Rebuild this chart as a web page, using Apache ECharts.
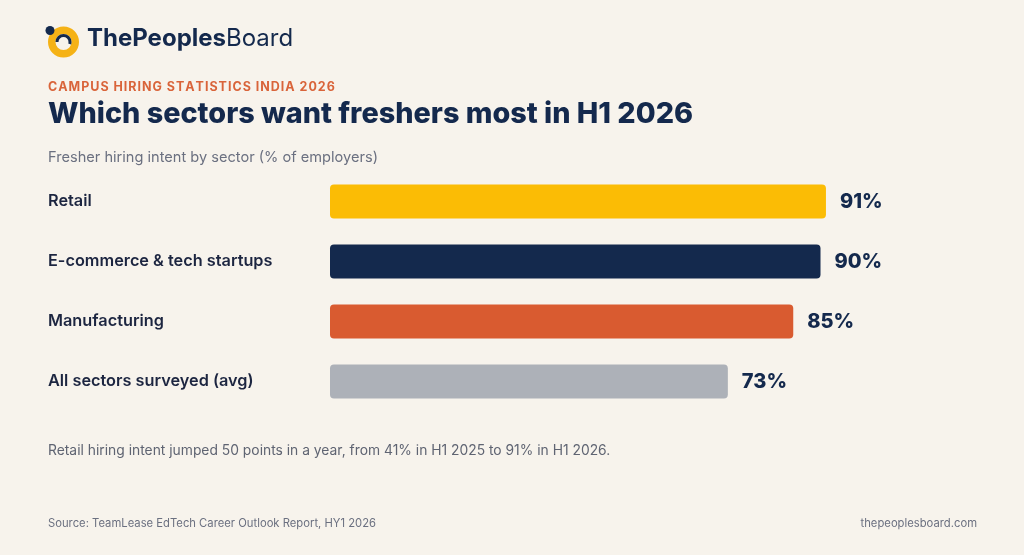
<!DOCTYPE html>
<html>
<head>
<meta charset="utf-8">
<script src="https://cdn.jsdelivr.net/npm/echarts@6/dist/echarts.min.js"></script>
<style>
html,body{margin:0;padding:0;background:#f7f3ec;}
#c{width:1024px;height:555px;}
</style>
</head>
<body>
<div id="c"></div>
<script>
const categories = ['Retail', 'E-commerce & tech startups', 'Manufacturing', 'All sectors surveyed (avg)'];
const values = [91, 90, 85, 73];
const barColors = ['#fbbc05', '#14294d', '#d95b30', '#adb1b8'];

const chart = echarts.init(document.getElementById('c'), null, {renderer: 'canvas'});
const FONT = 'Inter, "Open Sans", sans-serif';
const NAVY = '#14294d';
const spaced = s => s.split('').join('\u200A');

chart.setOption({
  backgroundColor: '#f7f3ec',
  animation: false,
  grid: {left: 330, top: 171.5, width: 545, height: 240, containLabel: false},
  xAxis: {type: 'value', min: 0, max: 100, show: false},
  yAxis: {
    type: 'category', data: categories, inverse: true,
    axisLine: {show: false}, axisTick: {show: false},
    axisLabel: {
      margin: 282, align: 'left', color: '#1c2540',
      fontFamily: FONT, fontSize: 16.3, fontWeight: 600
    }
  },
  series: [{
    type: 'bar', barWidth: 34,
    data: values.map((v, i) => ({value: v, itemStyle: {color: barColors[i]}})),
    itemStyle: {borderRadius: 4},
    label: {
      show: true, position: 'right', distance: 14,
      formatter: p => p.value + '%',
      color: NAVY, fontFamily: FONT, fontSize: 20, fontWeight: 800
    }
  }],
  graphic: [
    {type: 'ring', shape: {cx: 63.5, cy: 42, r: 15.5, r0: 8}, style: {fill: '#f5b216'}},
    {type: 'arc', shape: {cx: 63.5, cy: 42, r: 6.5, startAngle: Math.PI, endAngle: Math.PI * 2.1}, style: {stroke: NAVY, lineWidth: 3, fill: null}},
    {type: 'circle', shape: {cx: 50, cy: 30.5, r: 4.5}, style: {fill: NAVY}},
    {type: 'text', left: 87, top: 27, style: {
      text: '{b|ThePeoples}{r|Board}',
      rich: {
        b: {fontFamily: FONT, fontSize: 24, fontWeight: 700, fill: NAVY},
        r: {fontFamily: FONT, fontSize: 24, fontWeight: 400, fill: NAVY}
      }
    }},
    {type: 'text', left: 48, top: 81, style: {
      text: spaced('CAMPUS HIRING STATISTICS INDIA 2026'), fill: '#d9643a',
      fontFamily: FONT, fontSize: 12.5, fontWeight: 700
    }},
    {type: 'text', left: 48, top: 100, style: {
      text: 'Which sectors want freshers most in H1 2026', fill: NAVY,
      fontFamily: FONT, fontSize: 28.8, fontWeight: 800
    }},
    {type: 'text', left: 48, top: 150, style: {
      text: 'Fresher hiring intent by sector (% of employers)', fill: '#6b7080',
      fontFamily: FONT, fontSize: 14.6, fontWeight: 400
    }},
    {type: 'text', left: 48, top: 444, style: {
      text: 'Retail hiring intent jumped 50 points in a year, from 41% in H1 2025 to 91% in H1 2026.', fill: '#5f6472',
      fontFamily: FONT, fontSize: 13.85, fontWeight: 400
    }},
    {type: 'text', left: 48, top: 518, style: {
      text: 'Source: TeamLease EdTech Career Outlook Report, HY1 2026', fill: '#6b7080',
      fontFamily: FONT, fontSize: 11.25, fontWeight: 400
    }},
    {type: 'text', right: 47, top: 518, style: {
      text: 'thepeoplesboard.com', fill: '#6b7080',
      fontFamily: FONT, fontSize: 11.25, fontWeight: 400
    }}
  ]
});
</script>
</body>
</html>
